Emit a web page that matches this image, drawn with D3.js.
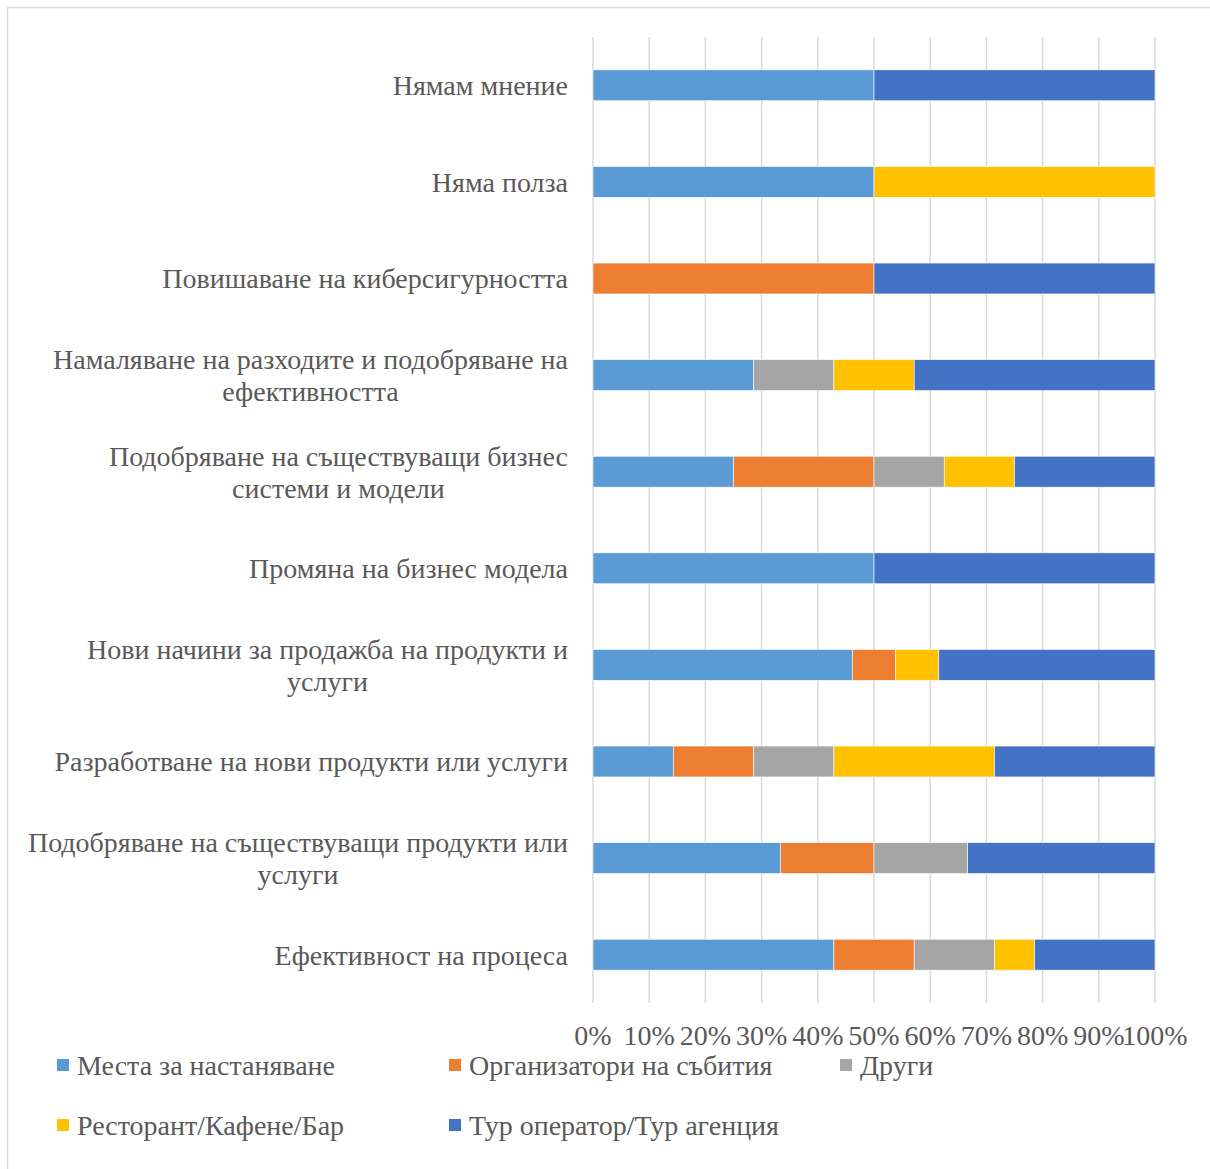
<!DOCTYPE html>
<html>
<head>
<meta charset="utf-8">
<script src="https://cdn.jsdelivr.net/npm/d3@7"></script>
<style>
  html, body { margin: 0; padding: 0; background: #fff; }
  svg { display: block; }
  text { font-family: "Liberation Serif", "Times New Roman", serif; fill: #595959; }
</style>
</head>
<body>
<svg id="chart" width="1210" height="1169"></svg>
<script>
// Categories, top to bottom
const categories = [
  ["Нямам мнение"],
  ["Няма полза"],
  ["Повишаване на киберсигурността"],
  ["Намаляване на разходите и подобряване на", "ефективността"],
  ["Подобряване на съществуващи бизнес", "системи и модели"],
  ["Промяна на бизнес модела"],
  ["Нови начини за продажба на продукти и", "услуги"],
  ["Разработване на нови продукти или услуги"],
  ["Подобряване на съществуващи продукти или", "услуги"],
  ["Ефективност на процеса"]
];

// Series names and colours
const seriesNames = [
  "Места за настаняване",
  "Организатори на събития",
  "Други",
  "Ресторант/Кафене/Бар",
  "Тур оператор/Тур агенция"
];
const seriesColors = ["#5B9BD5", "#ED7D31", "#A5A5A5", "#FFC000", "#4472C4"];

// Share of each series (%) per category, same order as categories
const mesta        = [50, 50, 0,  28.57, 25,   50, 46.15, 14.29, 33.33, 42.86];
const organizatori = [0,  0,  50, 0,     25,   0,  7.69,  14.29, 16.67, 14.29];
const drugi        = [0,  0,  0,  14.29, 12.5, 0,  0,     14.29, 16.67, 14.29];
const restorant    = [0,  50, 0,  14.29, 12.5, 0,  7.69,  28.57, 0,     7.14];
const turOperator  = [50, 0,  50, 42.85, 25,   50, 38.47, 28.56, 33.33, 21.42];

const tickValues = [0, 10, 20, 30, 40, 50, 60, 70, 80, 90, 100];

const seriesValues = [mesta, organizatori, drugi, restorant, turOperator];
const rows = categories.map((c, i) => {
  const r = { key: i };
  seriesNames.forEach((s, j) => { r[s] = seriesValues[j][i]; });
  return r;
});

const FONT = "28px";
const svg = d3.select("#chart");

// Chart frame
svg.append("rect")
  .attr("x", 7.5).attr("y", 7.5)
  .attr("width", 1210).attr("height", 1169)
  .attr("fill", "none").attr("stroke", "#d9d9d9").attr("stroke-width", 1.5);

const x = d3.scaleLinear().domain([0, 100]).range([593, 1155]);
const y = d3.scaleBand()
  .domain(d3.range(categories.length))
  .range([37, 1003])
  .paddingInner(0.68)
  .paddingOuter(0.34);

// Vertical gridlines
svg.append("g")
  .selectAll("line")
  .data(tickValues)
  .join("line")
  .attr("x1", d => x(d)).attr("x2", d => x(d))
  .attr("y1", 37).attr("y2", 1003)
  .attr("stroke", "#d9d9d9").attr("stroke-width", 1.5);

// Stacked bars
const stack = d3.stack().keys(seriesNames);
const layers = stack(rows);

svg.append("g")
  .selectAll("g")
  .data(layers)
  .join("g")
  .attr("fill", (d, i) => seriesColors[i])
  .selectAll("rect")
  .data(d => d.filter(p => p[1] - p[0] > 0))
  .join("rect")
  .attr("x", d => x(d[0]))
  .attr("width", d => x(d[1]) - x(d[0]))
  .attr("y", d => y(d.data.key))
  .attr("height", y.bandwidth())
  .attr("stroke", "#ffffff").attr("stroke-width", 0.6);

// Category labels: block right-aligned, lines centred within block
const labelRight = 568;
const lineH = 32;
const lab = svg.append("g").style("font-size", FONT);
categories.forEach((lines, i) => {
  const cy = y(i) + y.bandwidth() / 2;
  const g = lab.append("g");
  const texts = lines.map((ln, k) => g.append("text")
    .attr("y", cy + (k - (lines.length - 1) / 2) * lineH)
    .attr("dy", "0.35em")
    .text(ln));
  const widths = texts.map(t => t.node().getComputedTextLength());
  const maxW = d3.max(widths);
  texts.forEach(t => {
    t.attr("x", labelRight - maxW / 2).attr("text-anchor", "middle");
  });
});

// X axis tick labels
svg.append("g")
  .style("font-size", FONT)
  .selectAll("text")
  .data(tickValues)
  .join("text")
  .attr("x", d => x(d))
  .attr("y", 1045)
  .attr("text-anchor", "middle")
  .text(d => d + "%");

// Legend
const legendPos = [
  [57, 1065], [449, 1065], [840, 1065],
  [57, 1125], [449, 1125]
];
const leg = svg.append("g").style("font-size", FONT);
seriesNames.forEach((s, i) => {
  const [lx, ly] = legendPos[i];
  leg.append("rect")
    .attr("x", lx).attr("y", ly - 6)
    .attr("width", 12).attr("height", 12)
    .attr("fill", seriesColors[i]);
  leg.append("text")
    .attr("x", lx + 20).attr("y", ly)
    .attr("dy", "0.35em")
    .text(s);
});
</script>
</body>
</html>
